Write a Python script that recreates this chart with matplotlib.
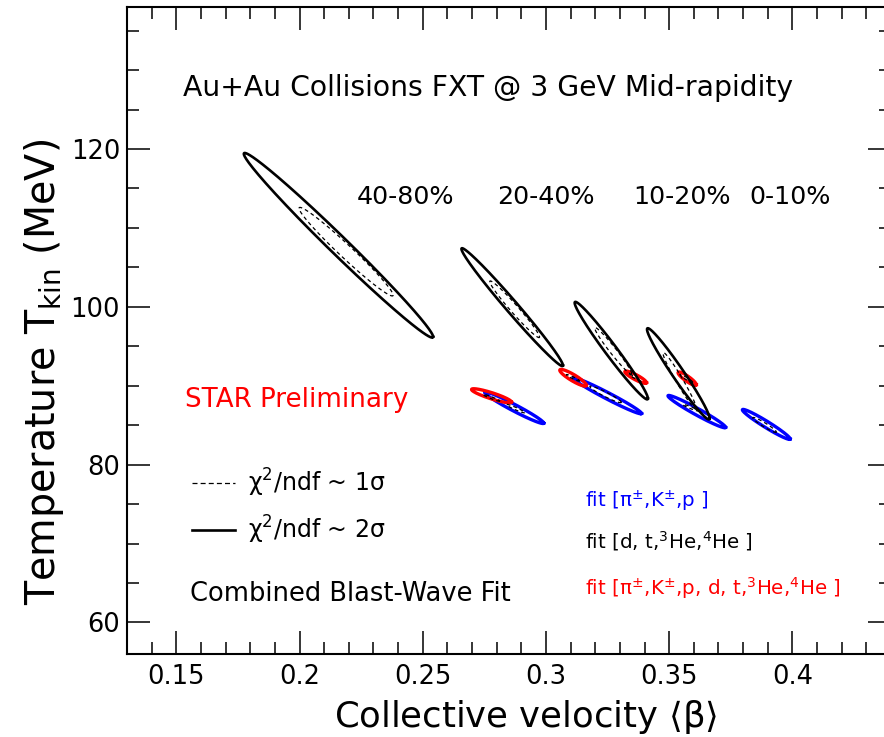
import numpy as np
import matplotlib
matplotlib.use("Agg")
import matplotlib.pyplot as plt
from matplotlib.lines import Line2D
from matplotlib.ticker import MultipleLocator

plt.rcParams["font.family"] = ["DejaVu Sans"]
plt.rcParams["mathtext.fontset"] = "dejavusans"

# Blast-wave fit contours, each given by its centre (beta, T), the widths
# (sigma_beta, sigma_T) and the beta-T correlation coefficient.

# light nuclei fit [d, t, 3He, 4He]: 2-sigma contours
nuc2_beta = [0.2158, 0.2863, 0.3265, 0.3537]
nuc2_T = [107.80, 99.96, 94.45, 91.51]
nuc2_sbeta = [0.0384, 0.0206, 0.01486, 0.0127]
nuc2_sT = [11.70, 7.47, 6.18, 5.78]
nuc2_rho = [-0.9905, -0.988, -0.980, -0.975]

# light nuclei fit: 1-sigma contours
nuc1_beta = [0.2189, 0.2873, 0.3273, 0.3543]
nuc1_T = [106.99, 99.69, 94.41, 90.60]
nuc1_sbeta = [0.0191, 0.0101, 0.0075, 0.0068]
nuc1_sT = [5.61, 3.59, 2.96, 3.60]
nuc1_rho = [-0.980, -0.978, -0.975, -0.972]

# light hadron fit [pi, K, p]: 2-sigma and 1-sigma contours
had2_beta = [0.2871, 0.3249, 0.3612, 0.3894]
had2_T = [87.21, 88.73, 86.72, 85.10]
had2_sbeta = [0.0120, 0.0139, 0.0117, 0.0097]
had2_sT = [2.00, 2.29, 2.05, 1.90]
had2_rho = [-0.973, -0.980, -0.973, -0.970]

had1_beta = [0.2877, 0.3242, 0.3589, 0.3887]
had1_T = [87.10, 88.90, 87.20, 85.03]
had1_sbeta = [0.0037, 0.0064, 0.0034, 0.0048]
had1_sT = [0.53, 1.05, 0.43, 0.95]
had1_rho = [-0.95, -0.95, -0.95, -0.95]

# combined fit [pi, K, p, d, t, 3He, 4He]: 2-sigma and 1-sigma contours
all2_beta = [0.2779, 0.3110, 0.3364, 0.3573]
all2_T = [88.73, 91.01, 91.08, 90.89]
all2_sbeta = [0.0081, 0.0054, 0.0044, 0.0037]
all2_sT = [0.89, 1.06, 0.78, 0.85]
all2_rho = [-0.89, -0.90, -0.89, -0.89]

all1_beta = [0.2779, 0.3110, 0.3363, 0.3570]
all1_T = [88.47, 91.00, 91.00, 90.90]
all1_sbeta = [0.0034, 0.0027, 0.0024, 0.0027]
all1_sT = [0.43, 0.42, 0.42, 0.53]
all1_rho = [-0.95, -0.95, -0.95, -0.95]

centralities = ["40-80%", "20-40%", "10-20%", "0-10%"]
centrality_beta = [0.2233, 0.2800, 0.3353, 0.3826]
centrality_T = 113.0

BLUE = "#0000ff"
RED = "#ff0000"


def contour(ax, b, T, sb, sT, rho, **kw):
    t = np.linspace(0.0, 2.0 * np.pi, 721)
    phi = np.arccos(rho)
    ax.plot(b + sb * np.cos(t), T + sT * np.cos(t + phi), **kw)


fig = plt.figure(figsize=(8.84, 7.37), dpi=100)
ax = fig.add_axes([127 / 884, 83 / 737, 764 / 884, 647 / 737])

dash = (0, (3.0, 2.5))
for i in range(4):
    contour(ax, had2_beta[i], had2_T[i], had2_sbeta[i], had2_sT[i], had2_rho[i],
            color=BLUE, lw=2.4, zorder=2)
    contour(ax, had1_beta[i], had1_T[i], had1_sbeta[i], had1_sT[i], had1_rho[i],
            color="black", lw=0.9, ls=dash, zorder=4)
for i in range(4):
    contour(ax, all2_beta[i], all2_T[i], all2_sbeta[i], all2_sT[i], all2_rho[i],
            color=RED, lw=2.4, zorder=3)
    contour(ax, all1_beta[i], all1_T[i], all1_sbeta[i], all1_sT[i], all1_rho[i],
            color="black", lw=0.9, ls=dash, zorder=4)
for i in range(4):
    contour(ax, nuc2_beta[i], nuc2_T[i], nuc2_sbeta[i], nuc2_sT[i], nuc2_rho[i],
            color="black", lw=1.9, zorder=5)
    contour(ax, nuc1_beta[i], nuc1_T[i], nuc1_sbeta[i], nuc1_sT[i], nuc1_rho[i],
            color="black", lw=0.9, ls=dash, zorder=5)

ax.set_xlim(0.13, 0.44)
ax.set_ylim(56, 138)
ax.xaxis.set_minor_locator(MultipleLocator(0.01))
ax.yaxis.set_major_locator(MultipleLocator(20))
ax.yaxis.set_minor_locator(MultipleLocator(5))
ax.set_xticks([0.15, 0.2, 0.25, 0.3, 0.35, 0.4])
ax.set_xticklabels(["0.15", "0.2", "0.25", "0.3", "0.35", "0.4"])
ax.tick_params(which="both", direction="in", top=True, right=True, width=1.1)
ax.tick_params(which="major", length=16.5)
ax.tick_params(which="minor", length=8.6)
ax.tick_params(axis="x", which="major", labelsize=18.5, pad=7)
ax.tick_params(axis="y", which="major", labelsize=18.5, pad=5)
for s in ax.spines.values():
    s.set_linewidth(1.5)

ax.set_xlabel(r"Collective velocity $\langle$β$\rangle$", fontsize=25.5)
ax.xaxis.set_label_coords(0.5216, -0.068)
ax.set_ylabel(r"Temperature T$_{\mathrm{kin}}$ (MeV)", fontsize=28.5)
ax.yaxis.set_label_coords(-0.08, 0.436)

ax.text(0.1527, 126.73, "Au+Au Collisions FXT @ 3 GeV Mid-rapidity",
        fontsize=20.3, va="baseline", ha="left")
for lab, b in zip(centralities, centrality_beta):
    ax.text(b, centrality_T, lab, fontsize=18.3, va="baseline", ha="left")
ax.text(0.1535, 87.25, "STAR Preliminary", color=RED, fontsize=18.8,
        va="baseline", ha="left")
ax.text(0.1555, 62.66, "Combined Blast-Wave Fit", fontsize=18.5,
        va="baseline", ha="left")
ax.text(0.3157, 74.64, r"fit [π$^{\pm}$,K$^{\pm}$,p ]", color=BLUE,
        fontsize=14.3, va="baseline", ha="left")
ax.text(0.3157, 69.42, r"fit [d, t,$^{3}$He,$^{4}$He ]", color="black",
        fontsize=14.3, va="baseline", ha="left")
ax.text(0.3157, 63.52, r"fit [π$^{\pm}$,K$^{\pm}$,p, d, t,$^{3}$He,$^{4}$He ]",
        color=RED, fontsize=14.3, va="baseline", ha="left")

handles = [Line2D([], [], color="black", lw=0.9, ls=(0, (4.0, 2.5))),
           Line2D([], [], color="black", lw=1.9)]
labels = ["χ$^{2}$/ndf ~ 1σ", "χ$^{2}$/ndf ~ 2σ"]
ax.legend(handles, labels, loc="upper left", bbox_to_anchor=(0.0847, 0.2896),
          frameon=False, fontsize=17, borderpad=0, borderaxespad=0,
          handlelength=1.85, handletextpad=0.55, labelspacing=0.62)

fig.savefig("out.png", dpi=100)
